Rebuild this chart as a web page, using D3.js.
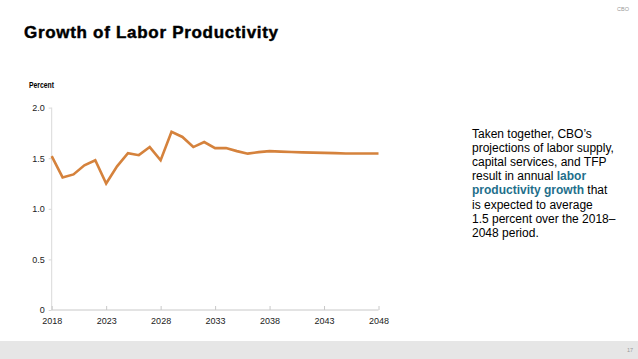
<!DOCTYPE html>
<html>
<head>
<meta charset="utf-8">
<script src="https://cdn.jsdelivr.net/npm/d3@7"></script>
<style>
  body { margin: 0; background: #fff; }
  svg { display: block; font-family: "Liberation Sans", Arial, sans-serif; }
</style>
</head>
<body>
<div id="chart"></div>
<script>
// chart data
const years = d3.range(2018, 2049);
const productivity = [1.52, 1.31, 1.34, 1.43, 1.48, 1.25, 1.42, 1.55, 1.53, 1.61, 1.48,
  1.76, 1.71, 1.61, 1.66, 1.60, 1.60, 1.57, 1.545, 1.56, 1.57, 1.565, 1.562, 1.558,
  1.555, 1.553, 1.55, 1.547, 1.547, 1.547, 1.547];
const xTicks = [2018, 2023, 2028, 2033, 2038, 2043, 2048];
const yTicks = [0, 0.5, 1.0, 1.5, 2.0];

const width = 638, height = 359;
const svg = d3.select('#chart').append('svg')
  .attr('width', width)
  .attr('height', height);

// title and small page marks
svg.append('text')
  .attr('x', 24).attr('y', 38)
  .attr('font-size', 17).attr('font-weight', 'bold')
  .attr('letter-spacing', 0.7)
  .attr('fill', '#000')
  .attr('stroke', '#000').attr('stroke-width', 0.45)
  .text('Growth of Labor Productivity');

svg.append('text')
  .attr('x', 629).attr('y', 11)
  .attr('text-anchor', 'end')
  .attr('font-size', 5.5).attr('fill', '#999')
  .text('CBO');

svg.append('rect')
  .attr('x', 0).attr('y', 341)
  .attr('width', width).attr('height', 18)
  .attr('fill', '#e6e6e6');

svg.append('text')
  .attr('x', 633).attr('y', 352)
  .attr('text-anchor', 'end')
  .attr('font-size', 5.5).attr('fill', '#999')
  .text('17');

// scales
const x = d3.scaleLinear().domain([2018, 2048]).range([51.7, 378.5]);
const y = d3.scaleLinear().domain([0, 2]).range([310, 107.6]);

svg.append('text')
  .attr('x', 29).attr('y', 88)
  .attr('font-size', 8.5).attr('font-weight', 'bold')
  .attr('textLength', 25).attr('lengthAdjust', 'spacingAndGlyphs')
  .text('Percent');

// y axis
const yAxis = svg.append('g')
  .attr('transform', `translate(${x(2018)},0)`)
  .call(d3.axisLeft(y).tickValues(yTicks)
    .tickFormat(d => d === 0 ? '0' : d3.format('.1f')(d))
    .tickSize(3).tickPadding(4));
yAxis.select('.domain').attr('stroke', '#d9d9d9').attr('d', `M0,${y(0)}V${y(2)}`);
yAxis.selectAll('.tick line').attr('stroke', '#d9d9d9');
yAxis.selectAll('.tick text')
  .attr('font-family', '"Liberation Sans", Arial, sans-serif')
  .attr('font-size', 9).attr('fill', '#222');

// x axis
const xAxis = svg.append('g')
  .attr('transform', `translate(0,${y(0)})`)
  .call(d3.axisBottom(x).tickValues(xTicks).tickFormat(d3.format('d'))
    .tickSize(-4).tickPadding(8));
xAxis.select('.domain').attr('stroke', '#c8c8c8').attr('d', `M${x(2018)},0H${x(2048)}`);
xAxis.selectAll('.tick line').attr('stroke', '#c8c8c8');
xAxis.selectAll('.tick text')
  .attr('font-family', '"Liberation Sans", Arial, sans-serif')
  .attr('font-size', 9).attr('fill', '#222');

// line
const line = d3.line()
  .x((d, i) => x(years[i]))
  .y(d => y(d));

svg.append('path')
  .datum(productivity)
  .attr('d', line)
  .attr('fill', 'none')
  .attr('stroke', '#d5823c')
  .attr('stroke-width', 2.6)
  .attr('stroke-linejoin', 'miter');

// side note
const note = [
  [['Taken together, CBO\u2019s', false]],
  [['projections of labor supply,', false]],
  [['capital services, and TFP', false]],
  [['result in annual ', false], ['labor', true]],
  [['productivity growth', true], [' that', false]],
  [['is expected to average', false]],
  [['1.5 percent over the 2018\u2013', false]],
  [['2048 period.', false]]
];
const noteText = svg.append('text')
  .attr('font-size', 12)
  .attr('fill', '#000');
note.forEach((parts, i) => {
  parts.forEach((p, j) => {
    const t = noteText.append('tspan').text(p[0]);
    if (j === 0) t.attr('x', 472).attr('y', 137.5 + i * 14.2);
    if (p[1]) t.attr('font-weight', 'bold').attr('fill', '#1f6f8b');
  });
});
</script>
</body>
</html>
